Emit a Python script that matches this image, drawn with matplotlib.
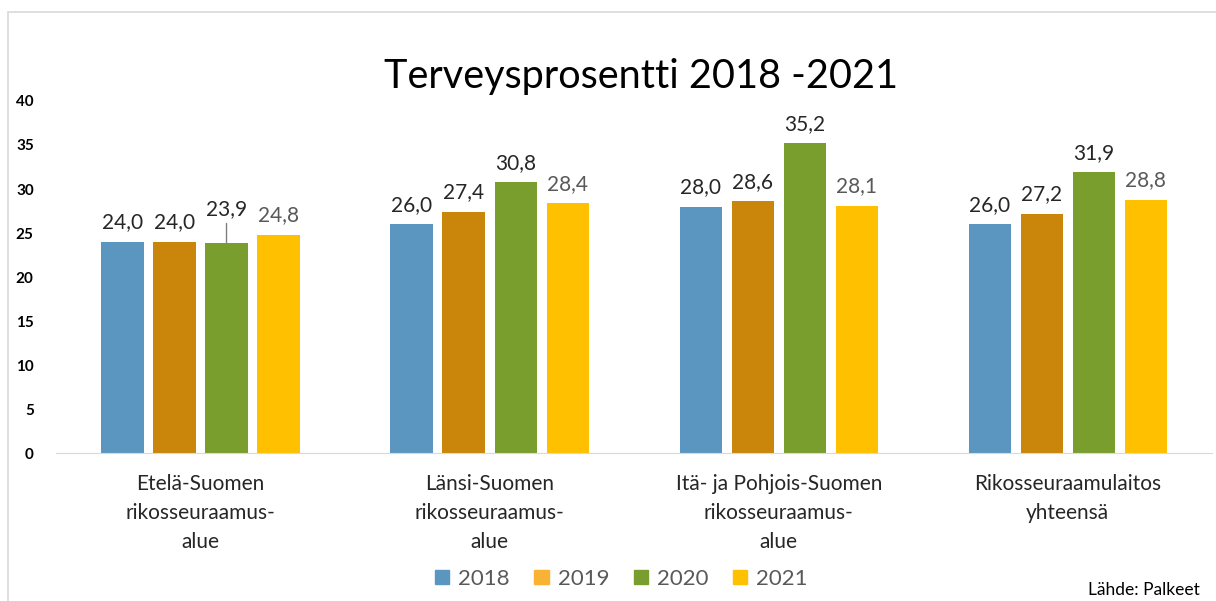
import matplotlib.pyplot as plt
import numpy as np
from matplotlib.patches import Patch, Rectangle

categories = ["Etelä-Suomen\nrikosseuraamus-\nalue",
              "Länsi-Suomen\nrikosseuraamus-\nalue",
              "Itä- ja Pohjois-Suomen\nrikosseuraamus-\nalue",
              "Rikosseuraamulaitos\nyhteensä"]
years = ["2018", "2019", "2020", "2021"]
v2018 = [24.0, 26.0, 28.0, 26.0]
v2019 = [24.0, 27.4, 28.6, 27.2]
v2020 = [23.9, 30.8, 35.2, 31.9]
v2021 = [24.8, 28.4, 28.1, 28.8]
yticks = [0, 5, 10, 15, 20, 25, 30, 35, 40]

bar_colors = ["#5B96C0", "#C9860A", "#7A9E2E", "#FFC000"]
legend_colors = ["#5B96C0", "#F9B233", "#7A9E2E", "#FFC000"]
label_colors = ["#262626", "#262626", "#262626", "#595959"]

plt.rcParams['font.family'] = ['Lato', 'DejaVu Sans']

fig = plt.figure(figsize=(12.16, 6.01), dpi=100)
ax = fig.add_axes([0.046, 0.246, 0.951, 0.586])

# outer frame like the office chart border
fig.patches.append(Rectangle((8 / 1216, -0.01), 1.02, 1 - 12 / 601 + 0.01,
                             transform=fig.transFigure, fill=False,
                             edgecolor="#D9D9D9", linewidth=1.2))

x = np.arange(len(categories))
step = 0.18
width = 0.146
series = [v2018, v2019, v2020, v2021]
for i, vals in enumerate(series):
    pos = x + (i - 1.5) * step
    ax.bar(pos, vals, width, color=bar_colors[i])
    for j, (p, v) in enumerate(zip(pos, vals)):
        txt = f"{v:.1f}".replace(".", ",")
        if i == 2 and j == 0:
            ax.annotate(txt, xy=(p, v), xytext=(p, v + 3.8), ha="center",
                        va="center", fontsize=15, color=label_colors[i],
                        arrowprops=dict(arrowstyle="-", color="#7F7F7F",
                                        lw=1, shrinkA=1, shrinkB=0))
        else:
            ax.text(p, v + 2.2, txt, ha="center", va="center",
                    fontsize=15, color=label_colors[i])

ax.set_xlim(-0.5, 3.5)
ax.set_ylim(0, 40)
ax.set_yticks(yticks)
ax.set_yticklabels([str(t) for t in yticks], fontsize=11, fontweight="bold")
ax.set_xticks(x)
ax.set_xticklabels(categories, fontsize=15, color="#262626", linespacing=1.55)
ax.tick_params(axis="y", length=0, pad=16)
ax.tick_params(axis="x", length=0, pad=15)
for s in ["top", "right", "left"]:
    ax.spines[s].set_visible(False)
ax.spines["bottom"].set_color("#D9D9D9")

fig.text(0.527, 0.872, "Terveysprosentti 2018 -2021", ha="center",
         va="center", fontsize=28.5, color="#000000")

handles = [Patch(color=c, label=y) for c, y in zip(legend_colors, years)]
fig.legend(handles=handles, loc="center", bbox_to_anchor=(0.511, 0.037),
           ncol=4, frameon=False, fontsize=16, handlelength=0.65,
           handleheight=0.65, handletextpad=0.4, columnspacing=1.1,
           labelcolor="#595959")

fig.text(0.987, 0.018, "Lähde: Palkeet", ha="right", va="center",
         fontsize=12.5, color="#000000")

fig.savefig("out.png", dpi=100)
